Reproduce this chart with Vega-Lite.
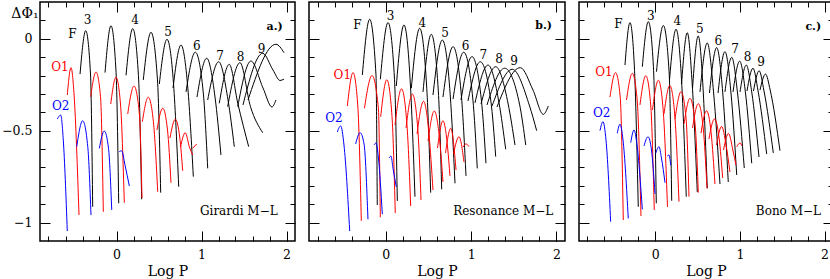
{
"$schema":"https://vega.github.io/schema/vega-lite/v6.json",
"padding":{"left":0,"right":0,"top":0,"bottom":0},
"spacing":10,
"config":{"view":{"stroke":"black","strokeWidth":1.5},
"axis":{"labelFont":"DejaVu Serif","labelFontSize":12.5,"labelColor":"black","titleFont":"DejaVu Serif","titleFontSize":14,"titleFontWeight":"normal","titleColor":"black","tickColor":"black","tickWidth":1,"domain":false,"grid":false,"labelFlush":false}},
"datasets":{
"curves":[
{"p":"a","m":"F","c":"F1","x":-0.429,"y":-0.192},{"p":"a","m":"F","c":"F1","x":-0.362,"y":0.044},{"p":"a","m":"F","c":"F1","x":-0.306,"y":-0.192},{"p":"a","m":"F","c":"F1","x":-0.28,"y":-0.914},
{"p":"a","m":"F","c":"F2","x":-0.135,"y":-0.184},{"p":"a","m":"F","c":"F2","x":-0.065,"y":0.071},{"p":"a","m":"F","c":"F2","x":-0.005,"y":-0.184},{"p":"a","m":"F","c":"F2","x":0.026,"y":-0.895},
{"p":"a","m":"F","c":"F3","x":0.112,"y":-0.199},{"p":"a","m":"F","c":"F3","x":0.191,"y":0.055},{"p":"a","m":"F","c":"F3","x":0.258,"y":-0.199},{"p":"a","m":"F","c":"F3","x":0.296,"y":-0.873},
{"p":"a","m":"F","c":"F4","x":0.315,"y":-0.224},{"p":"a","m":"F","c":"F4","x":0.406,"y":0.035},{"p":"a","m":"F","c":"F4","x":0.482,"y":-0.224},{"p":"a","m":"F","c":"F4","x":0.52,"y":-0.837},
{"p":"a","m":"F","c":"F5","x":0.504,"y":-0.246},{"p":"a","m":"F","c":"F5","x":0.594,"y":-0.003},{"p":"a","m":"F","c":"F5","x":0.671,"y":-0.246},{"p":"a","m":"F","c":"F5","x":0.732,"y":-0.805},
{"p":"a","m":"F","c":"F6","x":0.665,"y":-0.268},{"p":"a","m":"F","c":"F6","x":0.759,"y":-0.034},{"p":"a","m":"F","c":"F6","x":0.839,"y":-0.268},{"p":"a","m":"F","c":"F6","x":0.904,"y":-0.75},
{"p":"a","m":"F","c":"F7","x":0.818,"y":-0.289},{"p":"a","m":"F","c":"F7","x":0.927,"y":-0.073},{"p":"a","m":"F","c":"F7","x":1.02,"y":-0.289},{"p":"a","m":"F","c":"F7","x":1.073,"y":-0.705},
{"p":"a","m":"F","c":"F8","x":0.947,"y":-0.317},{"p":"a","m":"F","c":"F8","x":1.061,"y":-0.106},{"p":"a","m":"F","c":"F8","x":1.159,"y":-0.317},{"p":"a","m":"F","c":"F8","x":1.229,"y":-0.632},
{"p":"a","m":"F","c":"F9","x":1.073,"y":-0.333},{"p":"a","m":"F","c":"F9","x":1.202,"y":-0.125},{"p":"a","m":"F","c":"F9","x":1.312,"y":-0.333},{"p":"a","m":"F","c":"F9","x":1.386,"y":-0.587},
{"p":"a","m":"F","c":"F10","x":1.209,"y":-0.351},{"p":"a","m":"F","c":"F10","x":1.327,"y":-0.139},{"p":"a","m":"F","c":"F10","x":1.427,"y":-0.351},{"p":"a","m":"F","c":"F10","x":1.555,"y":-0.587},
{"p":"a","m":"F","c":"F11","x":1.308,"y":-0.369},{"p":"a","m":"F","c":"F11","x":1.453,"y":-0.13},{"p":"a","m":"F","c":"F11","x":1.576,"y":-0.369},{"p":"a","m":"F","c":"F11","x":1.72,"y":-0.511},
{"p":"a","m":"F","c":"F12","x":1.426,"y":-0.369},{"p":"a","m":"F","c":"F12","x":1.582,"y":-0.121},{"p":"a","m":"F","c":"F12","x":1.724,"y":-0.268},{"p":"a","m":"F","c":"F12","x":1.829,"y":-0.371},{"p":"a","m":"F","c":"F12","x":1.876,"y":-0.333},
{"p":"a","m":"F","c":"F13","x":1.488,"y":-0.36},{"p":"a","m":"F","c":"F13","x":1.72,"y":-0.079},{"p":"a","m":"F","c":"F13","x":1.841,"y":-0.17},{"p":"a","m":"F","c":"F13","x":1.924,"y":-0.227},{"p":"a","m":"F","c":"F13","x":1.971,"y":-0.219},
{"p":"a","m":"F","c":"F14","x":1.547,"y":-0.333},{"p":"a","m":"F","c":"F14","x":1.876,"y":-0.03},{"p":"a","m":"F","c":"F14","x":1.971,"y":-0.076},
{"p":"a","m":"O1","c":"R1","x":-0.579,"y":-0.306},{"p":"a","m":"O1","c":"R1","x":-0.535,"y":-0.157},{"p":"a","m":"O1","c":"R1","x":-0.499,"y":-0.306},{"p":"a","m":"O1","c":"R1","x":-0.441,"y":-0.959},
{"p":"a","m":"O1","c":"R2","x":-0.304,"y":-0.315},{"p":"a","m":"O1","c":"R2","x":-0.241,"y":-0.181},{"p":"a","m":"O1","c":"R2","x":-0.188,"y":-0.315},{"p":"a","m":"O1","c":"R2","x":-0.155,"y":-0.941},
{"p":"a","m":"O1","c":"R3","x":-0.068,"y":-0.355},{"p":"a","m":"O1","c":"R3","x":-0.006,"y":-0.209},{"p":"a","m":"O1","c":"R3","x":0.047,"y":-0.355},{"p":"a","m":"O1","c":"R3","x":0.092,"y":-0.892},
{"p":"a","m":"O1","c":"R4","x":0.132,"y":-0.409},{"p":"a","m":"O1","c":"R4","x":0.206,"y":-0.257},{"p":"a","m":"O1","c":"R4","x":0.269,"y":-0.409},{"p":"a","m":"O1","c":"R4","x":0.3,"y":-0.866},
{"p":"a","m":"O1","c":"R5","x":0.304,"y":-0.451},{"p":"a","m":"O1","c":"R5","x":0.374,"y":-0.318},{"p":"a","m":"O1","c":"R5","x":0.434,"y":-0.451},{"p":"a","m":"O1","c":"R5","x":0.485,"y":-0.832},
{"p":"a","m":"O1","c":"R6","x":0.476,"y":-0.496},{"p":"a","m":"O1","c":"R6","x":0.544,"y":-0.378},{"p":"a","m":"O1","c":"R6","x":0.6,"y":-0.496},{"p":"a","m":"O1","c":"R6","x":0.641,"y":-0.783},
{"p":"a","m":"O1","c":"R7","x":0.629,"y":-0.54},{"p":"a","m":"O1","c":"R7","x":0.692,"y":-0.438},{"p":"a","m":"O1","c":"R7","x":0.745,"y":-0.54},{"p":"a","m":"O1","c":"R7","x":0.779,"y":-0.718},
{"p":"a","m":"O1","c":"R8","x":0.753,"y":-0.589},{"p":"a","m":"O1","c":"R8","x":0.809,"y":-0.511},{"p":"a","m":"O1","c":"R8","x":0.858,"y":-0.589},{"p":"a","m":"O1","c":"R8","x":0.896,"y":-0.632},
{"p":"a","m":"O1","c":"R9","x":0.896,"y":-0.596},{"p":"a","m":"O1","c":"R9","x":0.944,"y":-0.572},
{"p":"a","m":"O2","c":"B1","x":-0.696,"y":-0.436},{"p":"a","m":"O2","c":"B1","x":-0.656,"y":-0.415},{"p":"a","m":"O2","c":"B1","x":-0.626,"y":-0.551},{"p":"a","m":"O2","c":"B1","x":-0.579,"y":-1.046},
{"p":"a","m":"O2","c":"B2","x":-0.468,"y":-0.587},{"p":"a","m":"O2","c":"B2","x":-0.398,"y":-0.446},{"p":"a","m":"O2","c":"B2","x":-0.338,"y":-0.587},{"p":"a","m":"O2","c":"B2","x":-0.3,"y":-0.959},
{"p":"a","m":"O2","c":"B3","x":-0.202,"y":-0.596},{"p":"a","m":"O2","c":"B3","x":-0.144,"y":-0.502},{"p":"a","m":"O2","c":"B3","x":-0.094,"y":-0.596},{"p":"a","m":"O2","c":"B3","x":-0.056,"y":-0.931},
{"p":"a","m":"O2","c":"B4","x":0.033,"y":-0.614},{"p":"a","m":"O2","c":"B4","x":0.061,"y":-0.609},{"p":"a","m":"O2","c":"B4","x":0.1,"y":-0.687},{"p":"a","m":"O2","c":"B4","x":0.151,"y":-0.801},
{"p":"b","m":"F","c":"F1","x":-0.275,"y":-0.197},{"p":"b","m":"F","c":"F1","x":-0.189,"y":0.106},{"p":"b","m":"F","c":"F1","x":-0.115,"y":-0.197},{"p":"b","m":"F","c":"F1","x":-0.1,"y":-0.904},
{"p":"b","m":"F","c":"F2","x":-0.064,"y":-0.22},{"p":"b","m":"F","c":"F2","x":0.026,"y":0.088},{"p":"b","m":"F","c":"F2","x":0.102,"y":-0.22},{"p":"b","m":"F","c":"F2","x":0.135,"y":-0.882},
{"p":"b","m":"F","c":"F3","x":0.123,"y":-0.257},{"p":"b","m":"F","c":"F3","x":0.213,"y":0.075},{"p":"b","m":"F","c":"F3","x":0.289,"y":-0.257},{"p":"b","m":"F","c":"F3","x":0.342,"y":-0.859},
{"p":"b","m":"F","c":"F4","x":0.299,"y":-0.269},{"p":"b","m":"F","c":"F4","x":0.397,"y":0.057},{"p":"b","m":"F","c":"F4","x":0.48,"y":-0.269},{"p":"b","m":"F","c":"F4","x":0.526,"y":-0.837},
{"p":"b","m":"F","c":"F5","x":0.436,"y":-0.289},{"p":"b","m":"F","c":"F5","x":0.533,"y":0.024},{"p":"b","m":"F","c":"F5","x":0.616,"y":-0.289},{"p":"b","m":"F","c":"F5","x":0.655,"y":-0.819},
{"p":"b","m":"F","c":"F6","x":0.553,"y":-0.306},{"p":"b","m":"F","c":"F6","x":0.662,"y":-0.007},{"p":"b","m":"F","c":"F6","x":0.755,"y":-0.306},{"p":"b","m":"F","c":"F6","x":0.811,"y":-0.786},
{"p":"b","m":"F","c":"F7","x":0.67,"y":-0.317},{"p":"b","m":"F","c":"F7","x":0.788,"y":-0.043},{"p":"b","m":"F","c":"F7","x":0.887,"y":-0.317},{"p":"b","m":"F","c":"F7","x":0.94,"y":-0.746},
{"p":"b","m":"F","c":"F8","x":0.788,"y":-0.328},{"p":"b","m":"F","c":"F8","x":0.913,"y":-0.073},{"p":"b","m":"F","c":"F8","x":1.02,"y":-0.328},{"p":"b","m":"F","c":"F8","x":1.072,"y":-0.705},
{"p":"b","m":"F","c":"F9","x":0.881,"y":-0.333},{"p":"b","m":"F","c":"F9","x":1.01,"y":-0.097},{"p":"b","m":"F","c":"F9","x":1.12,"y":-0.333},{"p":"b","m":"F","c":"F9","x":1.174,"y":-0.677},
{"p":"b","m":"F","c":"F10","x":0.963,"y":-0.338},{"p":"b","m":"F","c":"F10","x":1.107,"y":-0.125},{"p":"b","m":"F","c":"F10","x":1.231,"y":-0.338},{"p":"b","m":"F","c":"F10","x":1.288,"y":-0.641},
{"p":"b","m":"F","c":"F11","x":1.045,"y":-0.349},{"p":"b","m":"F","c":"F11","x":1.198,"y":-0.143},{"p":"b","m":"F","c":"F11","x":1.327,"y":-0.349},{"p":"b","m":"F","c":"F11","x":1.405,"y":-0.601},
{"p":"b","m":"F","c":"F12","x":1.116,"y":-0.355},{"p":"b","m":"F","c":"F12","x":1.288,"y":-0.152},{"p":"b","m":"F","c":"F12","x":1.434,"y":-0.355},{"p":"b","m":"F","c":"F12","x":1.514,"y":-0.578},
{"p":"b","m":"F","c":"F13","x":1.186,"y":-0.36},{"p":"b","m":"F","c":"F13","x":1.393,"y":-0.16},{"p":"b","m":"F","c":"F13","x":1.569,"y":-0.36},{"p":"b","m":"F","c":"F13","x":1.64,"y":-0.578},
{"p":"b","m":"F","c":"F14","x":1.245,"y":-0.366},{"p":"b","m":"F","c":"F14","x":1.482,"y":-0.166},{"p":"b","m":"F","c":"F14","x":1.685,"y":-0.366},{"p":"b","m":"F","c":"F14","x":1.768,"y":-0.5},
{"p":"b","m":"F","c":"F15","x":1.303,"y":-0.371},{"p":"b","m":"F","c":"F15","x":1.576,"y":-0.157},{"p":"b","m":"F","c":"F15","x":1.725,"y":-0.279},{"p":"b","m":"F","c":"F15","x":1.846,"y":-0.411},{"p":"b","m":"F","c":"F15","x":1.904,"y":-0.366},
{"p":"b","m":"O1","c":"R1","x":-0.451,"y":-0.366},{"p":"b","m":"O1","c":"R1","x":-0.384,"y":-0.184},{"p":"b","m":"O1","c":"R1","x":-0.328,"y":-0.366},{"p":"b","m":"O1","c":"R1","x":-0.287,"y":-0.99},
{"p":"b","m":"O1","c":"R2","x":-0.25,"y":-0.378},{"p":"b","m":"O1","c":"R2","x":-0.162,"y":-0.2},{"p":"b","m":"O1","c":"R2","x":-0.087,"y":-0.378},{"p":"b","m":"O1","c":"R2","x":-0.064,"y":-0.971},
{"p":"b","m":"O1","c":"R3","x":-0.06,"y":-0.424},{"p":"b","m":"O1","c":"R3","x":0.012,"y":-0.223},{"p":"b","m":"O1","c":"R3","x":0.073,"y":-0.424},{"p":"b","m":"O1","c":"R3","x":0.111,"y":-0.948},
{"p":"b","m":"O1","c":"R4","x":0.108,"y":-0.469},{"p":"b","m":"O1","c":"R4","x":0.184,"y":-0.272},{"p":"b","m":"O1","c":"R4","x":0.248,"y":-0.469},{"p":"b","m":"O1","c":"R4","x":0.292,"y":-0.91},
{"p":"b","m":"O1","c":"R5","x":0.237,"y":-0.485},{"p":"b","m":"O1","c":"R5","x":0.311,"y":-0.301},{"p":"b","m":"O1","c":"R5","x":0.374,"y":-0.485},{"p":"b","m":"O1","c":"R5","x":0.413,"y":-0.877},
{"p":"b","m":"O1","c":"R6","x":0.366,"y":-0.518},{"p":"b","m":"O1","c":"R6","x":0.442,"y":-0.34},{"p":"b","m":"O1","c":"R6","x":0.506,"y":-0.518},{"p":"b","m":"O1","c":"R6","x":0.553,"y":-0.823},
{"p":"b","m":"O1","c":"R7","x":0.495,"y":-0.556},{"p":"b","m":"O1","c":"R7","x":0.568,"y":-0.393},{"p":"b","m":"O1","c":"R7","x":0.632,"y":-0.556},{"p":"b","m":"O1","c":"R7","x":0.67,"y":-0.779},
{"p":"b","m":"O1","c":"R8","x":0.606,"y":-0.594},{"p":"b","m":"O1","c":"R8","x":0.67,"y":-0.446},{"p":"b","m":"O1","c":"R8","x":0.725,"y":-0.594},{"p":"b","m":"O1","c":"R8","x":0.752,"y":-0.746},
{"p":"b","m":"O1","c":"R9","x":0.7,"y":-0.621},{"p":"b","m":"O1","c":"R9","x":0.761,"y":-0.487},{"p":"b","m":"O1","c":"R9","x":0.823,"y":-0.714},
{"p":"b","m":"O1","c":"R10","x":0.793,"y":-0.627},{"p":"b","m":"O1","c":"R10","x":0.858,"y":-0.533},{"p":"b","m":"O1","c":"R10","x":0.916,"y":-0.67},
{"p":"b","m":"O1","c":"R11","x":0.905,"y":-0.589},{"p":"b","m":"O1","c":"R11","x":0.94,"y":-0.572},{"p":"b","m":"O1","c":"R11","x":0.975,"y":-0.587},
{"p":"b","m":"O2","c":"B1","x":-0.568,"y":-0.507},{"p":"b","m":"O2","c":"B1","x":-0.529,"y":-0.474},{"p":"b","m":"O2","c":"B1","x":-0.49,"y":-0.578},{"p":"b","m":"O2","c":"B1","x":-0.423,"y":-1.046},
{"p":"b","m":"O2","c":"B2","x":-0.353,"y":-0.572},{"p":"b","m":"O2","c":"B2","x":-0.302,"y":-0.511},{"p":"b","m":"O2","c":"B2","x":-0.255,"y":-0.572},{"p":"b","m":"O2","c":"B2","x":-0.209,"y":-0.982},
{"p":"b","m":"O2","c":"B3","x":-0.138,"y":-0.578},{"p":"b","m":"O2","c":"B3","x":-0.115,"y":-0.567},{"p":"b","m":"O2","c":"B3","x":-0.086,"y":-0.649},{"p":"b","m":"O2","c":"B3","x":-0.041,"y":-0.954},
{"p":"b","m":"O2","c":"B4","x":0.038,"y":-0.649},{"p":"b","m":"O2","c":"B4","x":0.061,"y":-0.638},{"p":"b","m":"O2","c":"B4","x":0.084,"y":-0.703},{"p":"b","m":"O2","c":"B4","x":0.123,"y":-0.806},
{"p":"c","m":"F","c":"F1","x":-0.357,"y":-0.143},{"p":"c","m":"F","c":"F1","x":-0.298,"y":0.088},{"p":"c","m":"F","c":"F1","x":-0.247,"y":-0.143},{"p":"c","m":"F","c":"F1","x":-0.2,"y":-0.914},
{"p":"c","m":"F","c":"F2","x":-0.152,"y":-0.152},{"p":"c","m":"F","c":"F2","x":-0.081,"y":0.093},{"p":"c","m":"F","c":"F2","x":-0.021,"y":-0.152},{"p":"c","m":"F","c":"F2","x":0.013,"y":-0.895},
{"p":"c","m":"F","c":"F3","x":0.015,"y":-0.179},{"p":"c","m":"F","c":"F3","x":0.096,"y":0.072},{"p":"c","m":"F","c":"F3","x":0.164,"y":-0.179},{"p":"c","m":"F","c":"F3","x":0.195,"y":-0.881},
{"p":"c","m":"F","c":"F4","x":0.169,"y":-0.224},{"p":"c","m":"F","c":"F4","x":0.246,"y":0.052},{"p":"c","m":"F","c":"F4","x":0.311,"y":-0.224},{"p":"c","m":"F","c":"F4","x":0.367,"y":-0.859},
{"p":"c","m":"F","c":"F5","x":0.311,"y":-0.246},{"p":"c","m":"F","c":"F5","x":0.379,"y":0.033},{"p":"c","m":"F","c":"F5","x":0.437,"y":-0.246},{"p":"c","m":"F","c":"F5","x":0.497,"y":-0.834},
{"p":"c","m":"F","c":"F6","x":0.441,"y":-0.268},{"p":"c","m":"F","c":"F6","x":0.508,"y":0.015},{"p":"c","m":"F","c":"F6","x":0.565,"y":-0.268},{"p":"c","m":"F","c":"F6","x":0.615,"y":-0.813},
{"p":"c","m":"F","c":"F7","x":0.529,"y":-0.289},{"p":"c","m":"F","c":"F7","x":0.615,"y":-0.023},{"p":"c","m":"F","c":"F7","x":0.689,"y":-0.289},{"p":"c","m":"F","c":"F7","x":0.765,"y":-0.79},
{"p":"c","m":"F","c":"F8","x":0.641,"y":-0.295},{"p":"c","m":"F","c":"F8","x":0.726,"y":-0.048},{"p":"c","m":"F","c":"F8","x":0.798,"y":-0.295},{"p":"c","m":"F","c":"F8","x":0.863,"y":-0.779},
{"p":"c","m":"F","c":"F9","x":0.742,"y":-0.295},{"p":"c","m":"F","c":"F9","x":0.824,"y":-0.07},{"p":"c","m":"F","c":"F9","x":0.895,"y":-0.295},{"p":"c","m":"F","c":"F9","x":0.963,"y":-0.741},
{"p":"c","m":"F","c":"F10","x":0.824,"y":-0.289},{"p":"c","m":"F","c":"F10","x":0.904,"y":-0.101},{"p":"c","m":"F","c":"F10","x":0.971,"y":-0.289},{"p":"c","m":"F","c":"F10","x":1.052,"y":-0.703},
{"p":"c","m":"F","c":"F11","x":0.919,"y":-0.289},{"p":"c","m":"F","c":"F11","x":0.998,"y":-0.122},{"p":"c","m":"F","c":"F11","x":1.065,"y":-0.289},{"p":"c","m":"F","c":"F11","x":1.14,"y":-0.677},
{"p":"c","m":"F","c":"F12","x":1.002,"y":-0.289},{"p":"c","m":"F","c":"F12","x":1.076,"y":-0.143},{"p":"c","m":"F","c":"F12","x":1.14,"y":-0.289},{"p":"c","m":"F","c":"F12","x":1.226,"y":-0.643},
{"p":"c","m":"F","c":"F13","x":1.084,"y":-0.284},{"p":"c","m":"F","c":"F13","x":1.155,"y":-0.16},{"p":"c","m":"F","c":"F13","x":1.215,"y":-0.284},{"p":"c","m":"F","c":"F13","x":1.317,"y":-0.627},
{"p":"c","m":"F","c":"F14","x":1.161,"y":-0.284},{"p":"c","m":"F","c":"F14","x":1.228,"y":-0.174},{"p":"c","m":"F","c":"F14","x":1.285,"y":-0.284},{"p":"c","m":"F","c":"F14","x":1.395,"y":-0.621},
{"p":"c","m":"F","c":"F15","x":1.238,"y":-0.279},{"p":"c","m":"F","c":"F15","x":1.303,"y":-0.192},{"p":"c","m":"F","c":"F15","x":1.358,"y":-0.279},{"p":"c","m":"F","c":"F15","x":1.474,"y":-0.609},
{"p":"c","m":"O1","c":"R1","x":-0.534,"y":-0.317},{"p":"c","m":"O1","c":"R1","x":-0.469,"y":-0.184},{"p":"c","m":"O1","c":"R1","x":-0.413,"y":-0.317},{"p":"c","m":"O1","c":"R1","x":-0.377,"y":-0.986},
{"p":"c","m":"O1","c":"R2","x":-0.339,"y":-0.333},{"p":"c","m":"O1","c":"R2","x":-0.27,"y":-0.188},{"p":"c","m":"O1","c":"R2","x":-0.213,"y":-0.333},{"p":"c","m":"O1","c":"R2","x":-0.168,"y":-0.964},
{"p":"c","m":"O1","c":"R3","x":-0.18,"y":-0.36},{"p":"c","m":"O1","c":"R3","x":-0.111,"y":-0.201},{"p":"c","m":"O1","c":"R3","x":-0.053,"y":-0.36},{"p":"c","m":"O1","c":"R3","x":-0.011,"y":-0.931},
{"p":"c","m":"O1","c":"R4","x":-0.032,"y":-0.387},{"p":"c","m":"O1","c":"R4","x":0.037,"y":-0.226},{"p":"c","m":"O1","c":"R4","x":0.094,"y":-0.387},{"p":"c","m":"O1","c":"R4","x":0.145,"y":-0.914},
{"p":"c","m":"O1","c":"R5","x":0.104,"y":-0.409},{"p":"c","m":"O1","c":"R5","x":0.172,"y":-0.254},{"p":"c","m":"O1","c":"R5","x":0.23,"y":-0.409},{"p":"c","m":"O1","c":"R5","x":0.281,"y":-0.886},
{"p":"c","m":"O1","c":"R6","x":0.234,"y":-0.436},{"p":"c","m":"O1","c":"R6","x":0.305,"y":-0.288},{"p":"c","m":"O1","c":"R6","x":0.365,"y":-0.436},{"p":"c","m":"O1","c":"R6","x":0.399,"y":-0.859},
{"p":"c","m":"O1","c":"R7","x":0.34,"y":-0.464},{"p":"c","m":"O1","c":"R7","x":0.411,"y":-0.324},{"p":"c","m":"O1","c":"R7","x":0.471,"y":-0.464},{"p":"c","m":"O1","c":"R7","x":0.509,"y":-0.837},
{"p":"c","m":"O1","c":"R8","x":0.441,"y":-0.485},{"p":"c","m":"O1","c":"R8","x":0.509,"y":-0.353},{"p":"c","m":"O1","c":"R8","x":0.567,"y":-0.485},{"p":"c","m":"O1","c":"R8","x":0.612,"y":-0.814},
{"p":"c","m":"O1","c":"R9","x":0.541,"y":-0.513},{"p":"c","m":"O1","c":"R9","x":0.606,"y":-0.392},{"p":"c","m":"O1","c":"R9","x":0.661,"y":-0.513},{"p":"c","m":"O1","c":"R9","x":0.706,"y":-0.79},
{"p":"c","m":"O1","c":"R10","x":0.635,"y":-0.545},{"p":"c","m":"O1","c":"R10","x":0.7,"y":-0.436},{"p":"c","m":"O1","c":"R10","x":0.756,"y":-0.545},{"p":"c","m":"O1","c":"R10","x":0.797,"y":-0.757},
{"p":"c","m":"O1","c":"R11","x":0.724,"y":-0.578},{"p":"c","m":"O1","c":"R11","x":0.785,"y":-0.477},{"p":"c","m":"O1","c":"R11","x":0.837,"y":-0.578},{"p":"c","m":"O1","c":"R11","x":0.883,"y":-0.725},
{"p":"c","m":"O1","c":"R12","x":0.807,"y":-0.605},{"p":"c","m":"O1","c":"R12","x":0.866,"y":-0.515},{"p":"c","m":"O1","c":"R12","x":0.917,"y":-0.605},{"p":"c","m":"O1","c":"R12","x":0.954,"y":-0.687},
{"p":"c","m":"O1","c":"R13","x":0.963,"y":-0.587},{"p":"c","m":"O1","c":"R13","x":1.002,"y":-0.567},{"p":"c","m":"O1","c":"R13","x":1.025,"y":-0.583},
{"p":"c","m":"O2","c":"B1","x":-0.652,"y":-0.5},{"p":"c","m":"O2","c":"B1","x":-0.617,"y":-0.451},{"p":"c","m":"O2","c":"B1","x":-0.581,"y":-0.551},{"p":"c","m":"O2","c":"B1","x":-0.526,"y":-0.995},
{"p":"c","m":"O2","c":"B2","x":-0.448,"y":-0.514},{"p":"c","m":"O2","c":"B2","x":-0.416,"y":-0.465},{"p":"c","m":"O2","c":"B2","x":-0.38,"y":-0.551},{"p":"c","m":"O2","c":"B2","x":-0.318,"y":-0.977},
{"p":"c","m":"O2","c":"B3","x":-0.289,"y":-0.565},{"p":"c","m":"O2","c":"B3","x":-0.25,"y":-0.496},{"p":"c","m":"O2","c":"B3","x":-0.215,"y":-0.578},{"p":"c","m":"O2","c":"B3","x":-0.152,"y":-0.928},
{"p":"c","m":"O2","c":"B4","x":-0.132,"y":-0.583},{"p":"c","m":"O2","c":"B4","x":-0.085,"y":-0.533},{"p":"c","m":"O2","c":"B4","x":-0.044,"y":-0.605},{"p":"c","m":"O2","c":"B4","x":-0.002,"y":-0.844},
{"p":"c","m":"O2","c":"B5","x":0.006,"y":-0.623},{"p":"c","m":"O2","c":"B5","x":0.045,"y":-0.587},{"p":"c","m":"O2","c":"B5","x":0.074,"y":-0.649},{"p":"c","m":"O2","c":"B5","x":0.116,"y":-0.783},
{"p":"c","m":"O2","c":"B6","x":0.143,"y":-0.638},{"p":"c","m":"O2","c":"B6","x":0.163,"y":-0.632},{"p":"c","m":"O2","c":"B6","x":0.183,"y":-0.687}
],
"labels":[
{"p":"a","k":"lab","m":"F","t":"F","x":-0.52,"y":0.024},{"p":"a","k":"lab","m":"F","t":"3","x":-0.339,"y":0.102},{"p":"a","k":"lab","m":"F","t":"4","x":0.218,"y":0.102},{"p":"a","k":"lab","m":"F","t":"5","x":0.608,"y":0.039},{"p":"a","k":"lab","m":"F","t":"6","x":0.944,"y":-0.039},{"p":"a","k":"lab","m":"F","t":"7","x":1.218,"y":-0.094},{"p":"a","k":"lab","m":"F","t":"8","x":1.461,"y":-0.101},{"p":"a","k":"lab","m":"F","t":"9","x":1.708,"y":-0.055},{"p":"a","k":"lab","m":"O1","t":"O1","x":-0.665,"y":-0.152},{"p":"a","k":"lab","m":"O2","t":"O2","x":-0.656,"y":-0.366},
{"p":"a","k":"tag","m":"F","t":"a.)","x":1.86,"y":0.066},{"p":"a","k":"model","m":"F","t":"Girardi M−L","x":1.896,"y":-0.935},
{"p":"b","k":"lab","m":"F","t":"F","x":-0.334,"y":0.075},{"p":"b","k":"lab","m":"F","t":"3","x":0.057,"y":0.124},{"p":"b","k":"lab","m":"F","t":"4","x":0.428,"y":0.084},{"p":"b","k":"lab","m":"F","t":"5","x":0.694,"y":0.03},{"p":"b","k":"lab","m":"F","t":"6","x":0.936,"y":-0.039},{"p":"b","k":"lab","m":"F","t":"7","x":1.143,"y":-0.088},{"p":"b","k":"lab","m":"F","t":"8","x":1.327,"y":-0.112},{"p":"b","k":"lab","m":"F","t":"9","x":1.502,"y":-0.119},{"p":"b","k":"lab","m":"O1","t":"O1","x":-0.51,"y":-0.197},{"p":"b","k":"lab","m":"O2","t":"O2","x":-0.607,"y":-0.433},
{"p":"b","k":"tag","m":"F","t":"b.)","x":1.85,"y":0.07},{"p":"b","k":"model","m":"F","t":"Resonance M−L","x":1.963,"y":-0.935},
{"p":"c","k":"lab","m":"F","t":"F","x":-0.436,"y":0.081},{"p":"c","k":"lab","m":"F","t":"3","x":-0.053,"y":0.124},{"p":"c","k":"lab","m":"F","t":"4","x":0.261,"y":0.098},{"p":"c","k":"lab","m":"F","t":"5","x":0.526,"y":0.052},{"p":"c","k":"lab","m":"F","t":"6","x":0.745,"y":-0.01},{"p":"c","k":"lab","m":"F","t":"7","x":0.942,"y":-0.057},{"p":"c","k":"lab","m":"F","t":"8","x":1.092,"y":-0.101},{"p":"c","k":"lab","m":"F","t":"9","x":1.25,"y":-0.125},{"p":"c","k":"lab","m":"O1","t":"O1","x":-0.605,"y":-0.179},{"p":"c","k":"lab","m":"O2","t":"O2","x":-0.632,"y":-0.402},
{"p":"c","k":"tag","m":"F","t":"c.)","x":1.867,"y":0.066},{"p":"c","k":"model","m":"F","t":"Bono M−L","x":1.958,"y":-0.935}
],
"anchor":[{"x":0,"y":0}]
},
"hconcat":[
{"width":255,"height":239,
"layer":[
{"data":{"name":"curves"},"transform":[{"filter":"datum.p=='a'"}],"mark":{"type":"line","interpolate":"monotone","strokeWidth":1},
"encoding":{"x":{"field":"x","type":"quantitative","scale":{"domain":[-0.9,2.1],"nice":false,"zero":false},"axis":{"orient":"bottom","values":[0,1,2],"tickSize":-10,"labelPadding":17,"format":"d","title":"Log  P","titlePadding":4}},
"y":{"field":"y","type":"quantitative","scale":{"domain":[-1.1,0.2],"nice":false,"zero":false},"axis":{"orient":"left","values":[-1,-0.5,0],"tickSize":-10,"labelPadding":18,"format":".1~f","title":"ΔΦ₁","titleAngle":0,"titleX":-2,"titleY":11,"titleAlign":"right","titleBaseline":"middle"}},
"color":{"field":"m","type":"nominal","scale":{"domain":["F","O1","O2"],"range":["#000000","#ff0000","#0000ff"]},"legend":null},
"detail":{"field":"c"}}},
{"data":{"name":"anchor"},"mark":{"type":"point","opacity":0},"encoding":{"x":{"field":"x","type":"quantitative","axis":{"orient":"top","values":[0,1,2],"tickSize":-10,"labels":false,"title":null}},"y":{"field":"y","type":"quantitative","axis":{"orient":"right","values":[-1,-0.5,0],"tickSize":-10,"labels":false,"title":null}}}},
{"data":{"name":"anchor"},"mark":{"type":"point","opacity":0},"encoding":{"x":{"field":"x","type":"quantitative","axis":{"orient":"bottom","values":[-0.8,-0.6,-0.4,-0.2,0.2,0.4,0.6,0.8,1.2,1.4,1.6,1.8,2.0],"tickSize":-5,"labels":false,"title":null}},"y":{"field":"y","type":"quantitative","axis":{"orient":"left","values":[-0.9,-0.8,-0.7,-0.6,-0.4,-0.3,-0.2,-0.1,0.1],"tickSize":-5,"labels":false,"title":null}}}},
{"data":{"name":"anchor"},"mark":{"type":"point","opacity":0},"encoding":{"x":{"field":"x","type":"quantitative","axis":{"orient":"top","values":[-0.8,-0.6,-0.4,-0.2,0.2,0.4,0.6,0.8,1.2,1.4,1.6,1.8,2.0],"tickSize":-5,"labels":false,"title":null}},"y":{"field":"y","type":"quantitative","axis":{"orient":"right","values":[-0.9,-0.8,-0.7,-0.6,-0.4,-0.3,-0.2,-0.1,0.1],"tickSize":-5,"labels":false,"title":null}}}},
{"data":{"name":"labels"},"transform":[{"filter":"datum.p=='a' && datum.k=='lab'"}],"mark":{"type":"text","font":"DejaVu Serif","fontSize":12},"encoding":{"x":{"field":"x","type":"quantitative","axis":null},"y":{"field":"y","type":"quantitative","axis":null},"text":{"field":"t"},"color":{"field":"m","type":"nominal","legend":null}}},
{"data":{"name":"labels"},"transform":[{"filter":"datum.p=='a' && datum.k=='tag'"}],"mark":{"type":"text","font":"DejaVu Serif","fontSize":11,"fontWeight":"bold","color":"black"},"encoding":{"x":{"field":"x","type":"quantitative","axis":null},"y":{"field":"y","type":"quantitative","axis":null},"text":{"field":"t"}}},
{"data":{"name":"labels"},"transform":[{"filter":"datum.p=='a' && datum.k=='model'"}],"mark":{"type":"text","font":"DejaVu Serif","fontSize":12,"align":"right","color":"black"},"encoding":{"x":{"field":"x","type":"quantitative","axis":null},"y":{"field":"y","type":"quantitative","axis":null},"text":{"field":"t"}}}
],
"resolve":{"axis":{"x":"independent","y":"independent"}}},
{"width":256,"height":239,
"layer":[
{"data":{"name":"curves"},"transform":[{"filter":"datum.p=='b'"}],"mark":{"type":"line","interpolate":"monotone","strokeWidth":1},
"encoding":{"x":{"field":"x","type":"quantitative","scale":{"domain":[-0.9,2.1],"nice":false,"zero":false},"axis":{"orient":"bottom","values":[0,1,2],"tickSize":-10,"labelPadding":17,"format":"d","title":"Log  P","titlePadding":4}},
"y":{"field":"y","type":"quantitative","scale":{"domain":[-1.1,0.2],"nice":false,"zero":false},"axis":{"orient":"left","values":[-1,-0.5,0],"tickSize":-10,"labels":false,"title":null}},
"color":{"field":"m","type":"nominal","scale":{"domain":["F","O1","O2"],"range":["#000000","#ff0000","#0000ff"]},"legend":null},
"detail":{"field":"c"}}},
{"data":{"name":"anchor"},"mark":{"type":"point","opacity":0},"encoding":{"x":{"field":"x","type":"quantitative","axis":{"orient":"top","values":[0,1,2],"tickSize":-10,"labels":false,"title":null}},"y":{"field":"y","type":"quantitative","axis":{"orient":"right","values":[-1,-0.5,0],"tickSize":-10,"labels":false,"title":null}}}},
{"data":{"name":"anchor"},"mark":{"type":"point","opacity":0},"encoding":{"x":{"field":"x","type":"quantitative","axis":{"orient":"bottom","values":[-0.8,-0.6,-0.4,-0.2,0.2,0.4,0.6,0.8,1.2,1.4,1.6,1.8,2.0],"tickSize":-5,"labels":false,"title":null}},"y":{"field":"y","type":"quantitative","axis":{"orient":"left","values":[-0.9,-0.8,-0.7,-0.6,-0.4,-0.3,-0.2,-0.1,0.1],"tickSize":-5,"labels":false,"title":null}}}},
{"data":{"name":"anchor"},"mark":{"type":"point","opacity":0},"encoding":{"x":{"field":"x","type":"quantitative","axis":{"orient":"top","values":[-0.8,-0.6,-0.4,-0.2,0.2,0.4,0.6,0.8,1.2,1.4,1.6,1.8,2.0],"tickSize":-5,"labels":false,"title":null}},"y":{"field":"y","type":"quantitative","axis":{"orient":"right","values":[-0.9,-0.8,-0.7,-0.6,-0.4,-0.3,-0.2,-0.1,0.1],"tickSize":-5,"labels":false,"title":null}}}},
{"data":{"name":"labels"},"transform":[{"filter":"datum.p=='b' && datum.k=='lab'"}],"mark":{"type":"text","font":"DejaVu Serif","fontSize":12},"encoding":{"x":{"field":"x","type":"quantitative","axis":null},"y":{"field":"y","type":"quantitative","axis":null},"text":{"field":"t"},"color":{"field":"m","type":"nominal","legend":null}}},
{"data":{"name":"labels"},"transform":[{"filter":"datum.p=='b' && datum.k=='tag'"}],"mark":{"type":"text","font":"DejaVu Serif","fontSize":11,"fontWeight":"bold","color":"black"},"encoding":{"x":{"field":"x","type":"quantitative","axis":null},"y":{"field":"y","type":"quantitative","axis":null},"text":{"field":"t"}}},
{"data":{"name":"labels"},"transform":[{"filter":"datum.p=='b' && datum.k=='model'"}],"mark":{"type":"text","font":"DejaVu Serif","fontSize":12,"align":"right","color":"black"},"encoding":{"x":{"field":"x","type":"quantitative","axis":null},"y":{"field":"y","type":"quantitative","axis":null},"text":{"field":"t"}}}
],
"resolve":{"axis":{"x":"independent","y":"independent"}}},
{"width":254,"height":239,
"layer":[
{"data":{"name":"curves"},"transform":[{"filter":"datum.p=='c'"}],"mark":{"type":"line","interpolate":"monotone","strokeWidth":1},
"encoding":{"x":{"field":"x","type":"quantitative","scale":{"domain":[-0.9,2.1],"nice":false,"zero":false},"axis":{"orient":"bottom","values":[0,1,2],"tickSize":-10,"labelPadding":17,"format":"d","title":"Log  P","titlePadding":4}},
"y":{"field":"y","type":"quantitative","scale":{"domain":[-1.1,0.2],"nice":false,"zero":false},"axis":{"orient":"left","values":[-1,-0.5,0],"tickSize":-10,"labels":false,"title":null}},
"color":{"field":"m","type":"nominal","scale":{"domain":["F","O1","O2"],"range":["#000000","#ff0000","#0000ff"]},"legend":null},
"detail":{"field":"c"}}},
{"data":{"name":"anchor"},"mark":{"type":"point","opacity":0},"encoding":{"x":{"field":"x","type":"quantitative","axis":{"orient":"top","values":[0,1,2],"tickSize":-10,"labels":false,"title":null}},"y":{"field":"y","type":"quantitative","axis":{"orient":"right","values":[-1,-0.5,0],"tickSize":-10,"labels":false,"title":null}}}},
{"data":{"name":"anchor"},"mark":{"type":"point","opacity":0},"encoding":{"x":{"field":"x","type":"quantitative","axis":{"orient":"bottom","values":[-0.8,-0.6,-0.4,-0.2,0.2,0.4,0.6,0.8,1.2,1.4,1.6,1.8,2.0],"tickSize":-5,"labels":false,"title":null}},"y":{"field":"y","type":"quantitative","axis":{"orient":"left","values":[-0.9,-0.8,-0.7,-0.6,-0.4,-0.3,-0.2,-0.1,0.1],"tickSize":-5,"labels":false,"title":null}}}},
{"data":{"name":"anchor"},"mark":{"type":"point","opacity":0},"encoding":{"x":{"field":"x","type":"quantitative","axis":{"orient":"top","values":[-0.8,-0.6,-0.4,-0.2,0.2,0.4,0.6,0.8,1.2,1.4,1.6,1.8,2.0],"tickSize":-5,"labels":false,"title":null}},"y":{"field":"y","type":"quantitative","axis":{"orient":"right","values":[-0.9,-0.8,-0.7,-0.6,-0.4,-0.3,-0.2,-0.1,0.1],"tickSize":-5,"labels":false,"title":null}}}},
{"data":{"name":"labels"},"transform":[{"filter":"datum.p=='c' && datum.k=='lab'"}],"mark":{"type":"text","font":"DejaVu Serif","fontSize":12},"encoding":{"x":{"field":"x","type":"quantitative","axis":null},"y":{"field":"y","type":"quantitative","axis":null},"text":{"field":"t"},"color":{"field":"m","type":"nominal","legend":null}}},
{"data":{"name":"labels"},"transform":[{"filter":"datum.p=='c' && datum.k=='tag'"}],"mark":{"type":"text","font":"DejaVu Serif","fontSize":11,"fontWeight":"bold","color":"black"},"encoding":{"x":{"field":"x","type":"quantitative","axis":null},"y":{"field":"y","type":"quantitative","axis":null},"text":{"field":"t"}}},
{"data":{"name":"labels"},"transform":[{"filter":"datum.p=='c' && datum.k=='model'"}],"mark":{"type":"text","font":"DejaVu Serif","fontSize":12,"align":"right","color":"black"},"encoding":{"x":{"field":"x","type":"quantitative","axis":null},"y":{"field":"y","type":"quantitative","axis":null},"text":{"field":"t"}}}
],
"resolve":{"axis":{"x":"independent","y":"independent"}}}
]
}
